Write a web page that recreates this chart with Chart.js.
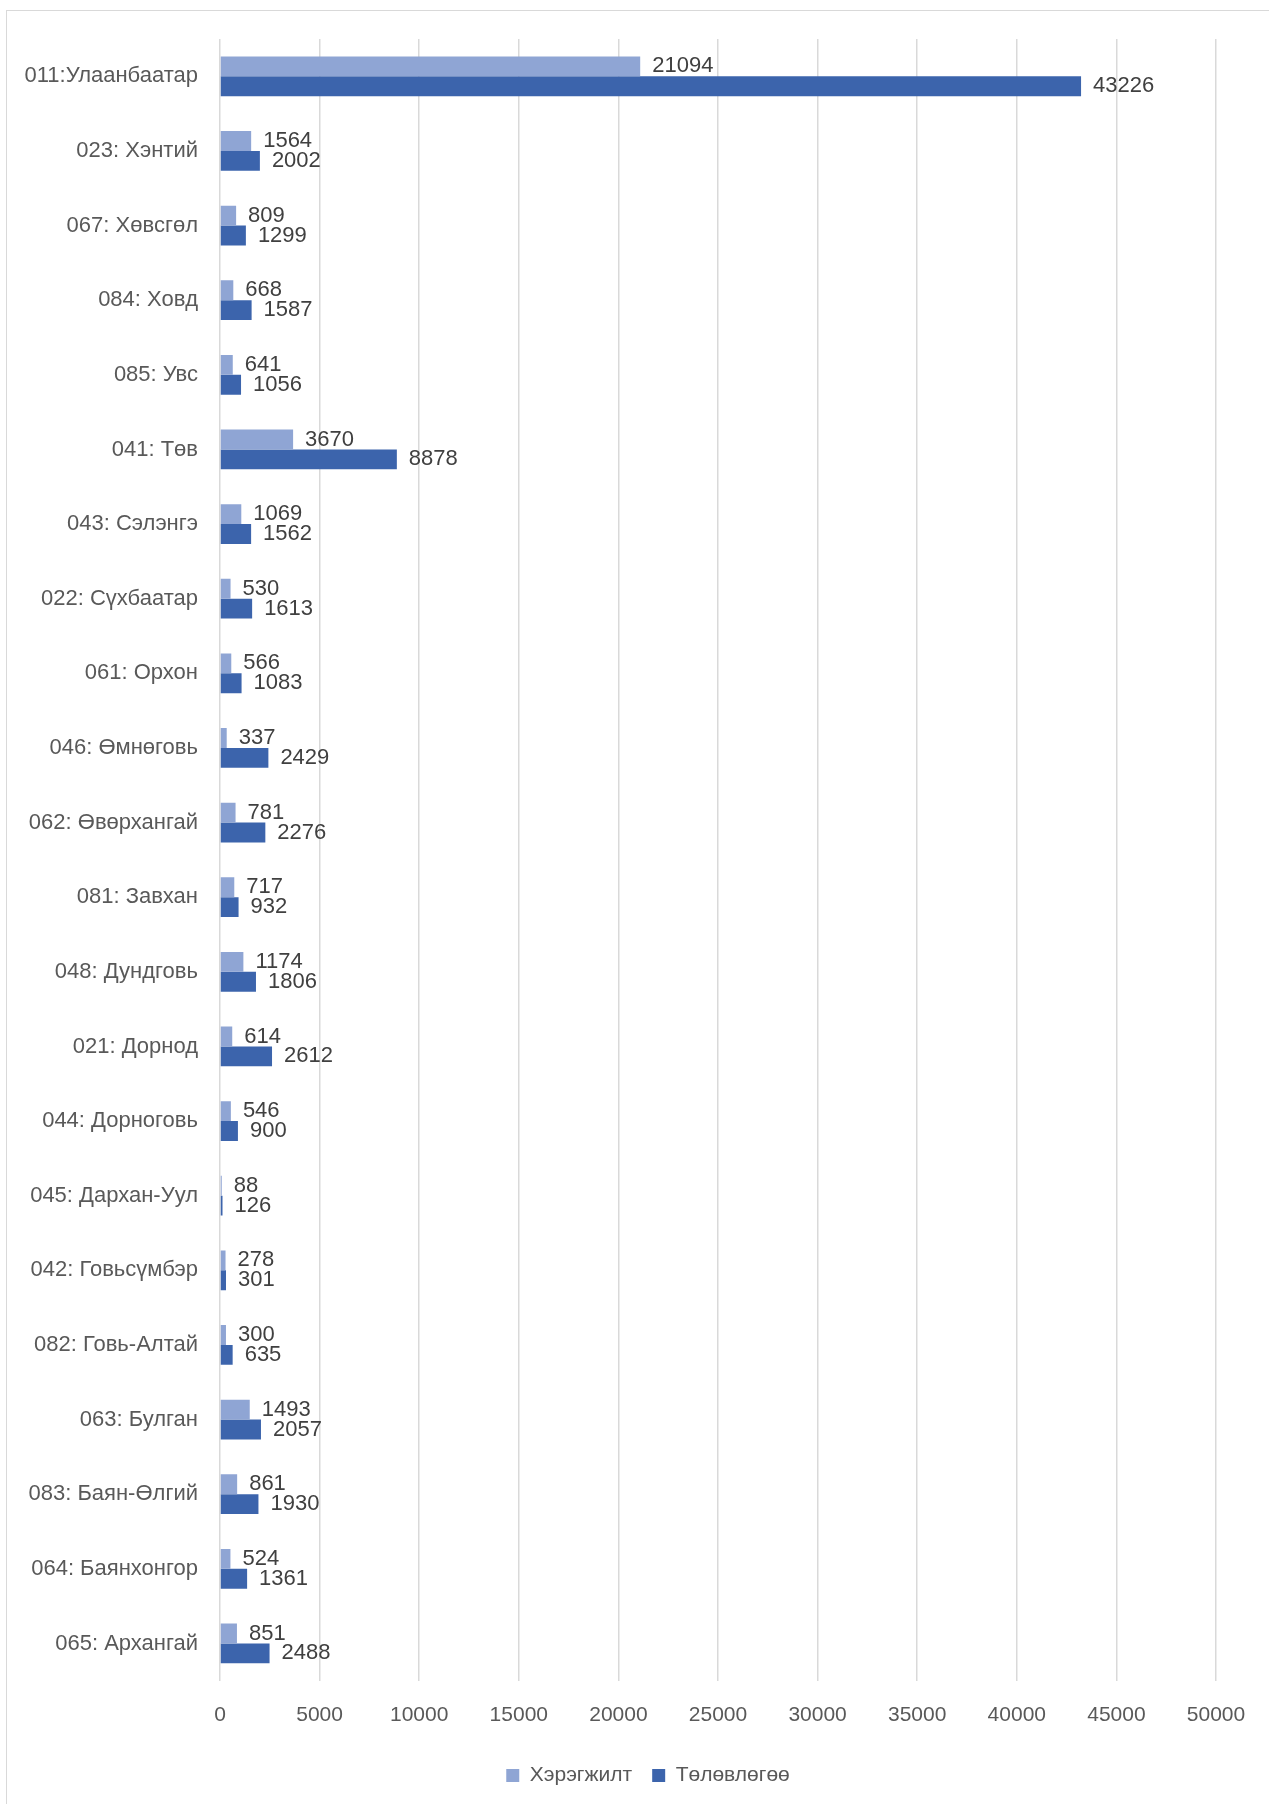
<!DOCTYPE html>
<html>
<head>
<meta charset="utf-8">
<script src="https://cdn.jsdelivr.net/npm/chart.js@4"></script>
<style>
  html, body { margin: 0; padding: 0; background: #fff; overflow: hidden; }
  #frame { position: absolute; left: 6px; top: 10px; width: 1400px; height: 1900px; border: 1px solid #d9d9d9; }
  #wrap { position: absolute; left: 0; top: 0; width: 1269px; height: 1804px; }
</style>
</head>
<body>
<div id="frame"></div>
<div id="wrap"><canvas id="chart" width="1269" height="1804"></canvas></div>
<script>
// regions (aimag codes)
const regions = [
    '011:Улаанбаатар', '023: Хэнтий', '067: Хөвсгөл', '084: Ховд', '085: Увс',
    '041: Төв', '043: Сэлэнгэ', '022: Сүхбаатар', '061: Орхон', '046: Өмнөговь',
    '062: Өвөрхангай', '081: Завхан', '048: Дундговь', '021: Дорнод', '044: Дорноговь',
    '045: Дархан-Уул', '042: Говьсүмбэр', '082: Говь-Алтай', '063: Булган',
    '083: Баян-Өлгий', '064: Баянхонгор', '065: Архангай'
];
// actual
const actual = [21094, 1564, 809, 668, 641, 3670, 1069, 530, 566, 337, 781, 717, 1174, 614, 546, 88, 278, 300, 1493, 861, 524, 851];
// plan
const plan = [43226, 2002, 1299, 1587, 1056, 8878, 1562, 1613, 1083, 2429, 2276, 932, 1806, 2612, 900, 126, 301, 635, 2057, 1930, 1361, 2488];

const xTicks = [0, 5000, 10000, 15000, 20000, 25000, 30000, 35000, 40000, 45000, 50000];

const textColor = '#404040';
const axisColor = '#595959';
const fontFamily = '"Liberation Sans", Arial, sans-serif';

// value labels to the right of each bar
const valueLabels = {
    id: 'valueLabels',
    afterLayout(chart) {
        // nudge legend a bit, like the original
        chart.legend.left += 40;
        chart.legend.right += 40;
        chart.legend.top -= 5;
        chart.legend.bottom -= 5;
    },
    afterDatasetsDraw(chart) {
        const ctx = chart.ctx;
        ctx.save();
        ctx.font = '22px ' + fontFamily;
        ctx.fillStyle = textColor;
        ctx.textAlign = 'left';
        ctx.textBaseline = 'middle';
        chart.data.datasets.forEach(function (ds, i) {
            chart.getDatasetMeta(i).data.forEach(function (bar, j) {
                ctx.fillText(String(ds.data[j]), bar.x + 12, bar.y);
            });
        });
        ctx.restore();
    }
};

new Chart('chart', {
    type: 'bar',
    data: {
        labels: regions,
        datasets: [{
            label: 'Хэрэгжилт',
            data: actual,
            backgroundColor: '#8FA5D4',
            borderWidth: 0
        }, {
            label: 'Төлөвлөгөө',
            data: plan,
            backgroundColor: '#3C64AC',
            borderWidth: 0
        }]
    },
    options: {
        indexAxis: 'y',
        responsive: false,
        animation: false,
        devicePixelRatio: 1,
        layout: { padding: { top: 39, right: 53, left: 0, bottom: 3 } },
        datasets: { bar: { categoryPercentage: 0.533, barPercentage: 1 } },
        scales: {
            x: {
                min: 0,
                max: 50000,
                afterBuildTicks: function (scale) {
                    scale.ticks = xTicks.map(function (v) { return { value: v }; });
                },
                grid: { color: '#d9d9d9', lineWidth: 1.5, drawTicks: false },
                border: { display: false },
                ticks: {
                    color: axisColor,
                    padding: 22,
                    maxRotation: 0,
                    callback: function (v) { return String(v); },
                    font: { size: 21, family: fontFamily }
                }
            },
            y: {
                grid: { display: false },
                border: { display: false },
                afterFit: function (scale) { scale.width = 220; },
                ticks: {
                    color: axisColor,
                    padding: 14,
                    autoSkip: false,
                    font: { size: 22, family: fontFamily }
                }
            }
        },
        plugins: {
            legend: {
                position: 'bottom',
                labels: {
                    color: axisColor,
                    boxWidth: 13,
                    boxHeight: 13,
                    padding: 20,
                    font: { size: 21, family: fontFamily }
                }
            },
            tooltip: { enabled: false }
        }
    },
    plugins: [valueLabels]
});
</script>
</body>
</html>
